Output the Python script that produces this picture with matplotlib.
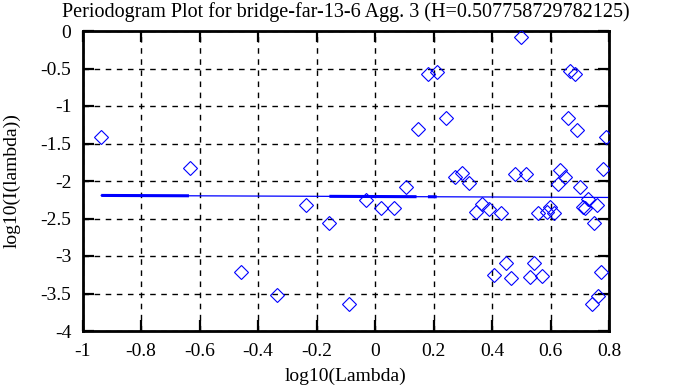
import matplotlib
matplotlib.use("Agg")
import matplotlib.pyplot as plt
import numpy as np

title = "Periodogram Plot for bridge-far-13-6 Agg. 3 (H=0.507758729782125)"
xlabel = "log10(Lambda)"
ylabel = "log10(I(lambda))"

log_lambda = [-0.936, -0.632, -0.458, -0.334, -0.237, -0.156, -0.089, -0.031, 0.021, 0.066,
              0.107, 0.146, 0.182, 0.213, 0.243, 0.274, 0.298, 0.323, 0.345, 0.365,
              0.390, 0.408, 0.430, 0.447, 0.465, 0.479, 0.498, 0.516, 0.530, 0.545,
              0.556, 0.572, 0.587, 0.598, 0.613, 0.625, 0.632, 0.650, 0.659, 0.667,
              0.684, 0.690, 0.700, 0.712, 0.718, 0.729, 0.741, 0.749, 0.759, 0.764,
              0.774, 0.780, 0.791]
log_I = [-1.417, -1.827, -3.218, -3.524, -2.316, -2.560, -3.640, -2.253, -2.356, -2.356,
         -2.076, -1.311, -0.578, -0.542, -1.156, -1.943, -1.898, -2.031, -2.417, -2.311,
         -2.377, -3.258, -2.427, -3.098, -3.289, -1.907, -0.076, -1.907, -3.284, -3.098,
         -2.422, -3.262, -2.409, -2.342, -2.422, -2.040, -1.853, -1.942, -1.156, -0.533,
         -0.578, -1.320, -2.076, -2.342, -2.364, -2.244, -3.640, -2.556, -2.316, -3.533,
         -3.213, -1.840, -1.418]

fit_intercept = -2.207
fit_slope = -0.0155
fit_range = [-0.936, 0.795]
thick_segments = [(-0.936, -0.636), (-0.156, 0.142), (0.181, 0.211)]

xticks = [-1, -0.8, -0.6, -0.4, -0.2, 0, 0.2, 0.4, 0.6, 0.8]
xticklabels = ["-1", "-0.8", "-0.6", "-0.4", "-0.2", "0", "0.2", "0.4", "0.6", "0.8"]
yticks = [-4, -3.5, -3, -2.5, -2, -1.5, -1, -0.5, 0]
yticklabels = ["-4", "-3.5", "-3", "-2.5", "-2", "-1.5", "-1", "-0.5", "0"]

plt.rcParams['font.family'] = ['Liberation Serif', 'DejaVu Serif']

fig = plt.figure(figsize=(6.78, 3.87), dpi=100)
ax = fig.add_axes([82.5/678, 1-331/387, (609-82.5)/678, 300/387])

ax.plot(log_lambda, log_I, linestyle='none', marker='D', markersize=7.6,
        markerfacecolor='none', markeredgecolor='#0000ff', markeredgewidth=0.8, zorder=3)

fx = np.array(fit_range)
ax.plot(fx, fit_intercept + fit_slope*fx, color='#0000ff', linewidth=0.9, zorder=2)
for a, b in thick_segments:
    sx = np.array([a, b])
    ax.plot(sx, fit_intercept + fit_slope*sx, color='#0000ff', linewidth=2.2, zorder=2,
            solid_capstyle='butt')

ax.set_xlim(-1, 0.8)
ax.set_ylim(-4, 0)
ax.set_xticks(xticks)
ax.set_xticklabels(xticklabels)
ax.set_yticks(yticks)
ax.set_yticklabels(yticklabels)
ax.grid(True, color='black', linestyle=(0, (4, 4)), linewidth=1.0)
ax.tick_params(direction='in', length=8, width=1.6, top=True, right=True,
               labelsize=14)
ax.tick_params(axis='x', pad=9)
ax.tick_params(axis='y', pad=8)
for s in ax.spines.values():
    s.set_linewidth(2.0)

ax.set_title(title, fontsize=14.5, pad=10)
ax.set_xlabel(xlabel, fontsize=14, labelpad=5)
ax.set_ylabel(ylabel, fontsize=14, labelpad=14)

fig.savefig("out.png", dpi=100)
